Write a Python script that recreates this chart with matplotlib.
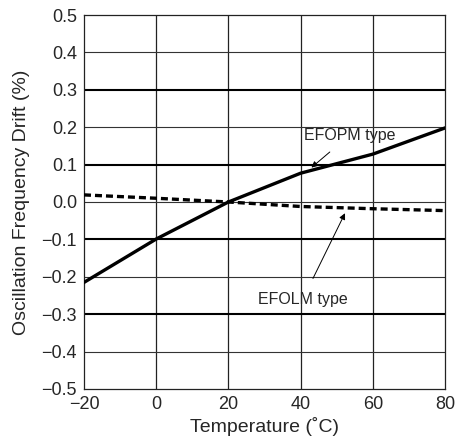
import matplotlib.pyplot as plt

plt.rcParams['font.family'] = ['Liberation Sans', 'DejaVu Sans']

temps = [-20, 0, 20, 40, 60, 80]
efopm = [-0.215, -0.099, 0.0, 0.077, 0.128, 0.198]
efolm = [0.019, 0.01, 0.0, -0.012, -0.018, -0.023]

xticks = [-20, 0, 20, 40, 60, 80]
yticks = [-0.5, -0.4, -0.3, -0.2, -0.1, 0.0, 0.1, 0.2, 0.3, 0.4, 0.5]

txt = '#262626'

fig = plt.figure(figsize=(4.58, 4.47), dpi=100)
ax = fig.add_axes([0.1834, 0.1298, 0.7882, 0.8366])

# grid: odd tenths drawn heavier
for x in xticks[1:-1]:
    ax.axvline(x, color='#222222', lw=0.9, zorder=1)
for y in yticks[1:-1]:
    heavy = abs(round(y * 10)) % 2 == 1
    ax.axhline(y, color='black' if heavy else '#333333',
               lw=1.5 if heavy else 0.8, zorder=1)

ax.plot(temps, efopm, color='black', lw=2.4, zorder=3)
ax.plot(temps, efolm, color='black', lw=2.4, ls=(0, (2.1, 1.2)), zorder=3)

ax.annotate('EFOPM type', xy=(43.0, 0.092), xytext=(53.5, 0.178),
            ha='center', va='center', fontsize=11.5, color=txt,
            arrowprops=dict(arrowstyle='-|>', color='black', lw=0.7,
                            mutation_scale=9, shrinkA=7, shrinkB=0))
ax.annotate('EFOLM type', xy=(52.3, -0.03), xytext=(40.5, -0.262),
            ha='center', va='center', fontsize=11.5, color=txt,
            arrowprops=dict(arrowstyle='-|>', color='black', lw=0.7,
                            mutation_scale=9, shrinkA=9, shrinkB=0))

ax.set_xlim(-20, 80)
ax.set_ylim(-0.5, 0.5)
ax.set_xticks(xticks)
ax.set_yticks(yticks)
ax.set_yticklabels([f'{v:.1f}'.replace('-', '\u2212') for v in yticks])
ax.tick_params(length=0, labelsize=13, labelcolor=txt, pad=5)
for s in ax.spines.values():
    s.set_linewidth(0.9)
    s.set_color('#222222')

ax.set_xlabel('Temperature (\u02daC)', fontsize=14, color=txt, labelpad=3)
ax.set_ylabel('Oscillation Frequency Drift (%)', fontsize=14, color=txt, labelpad=8)

fig.savefig('out.png', dpi=100)
